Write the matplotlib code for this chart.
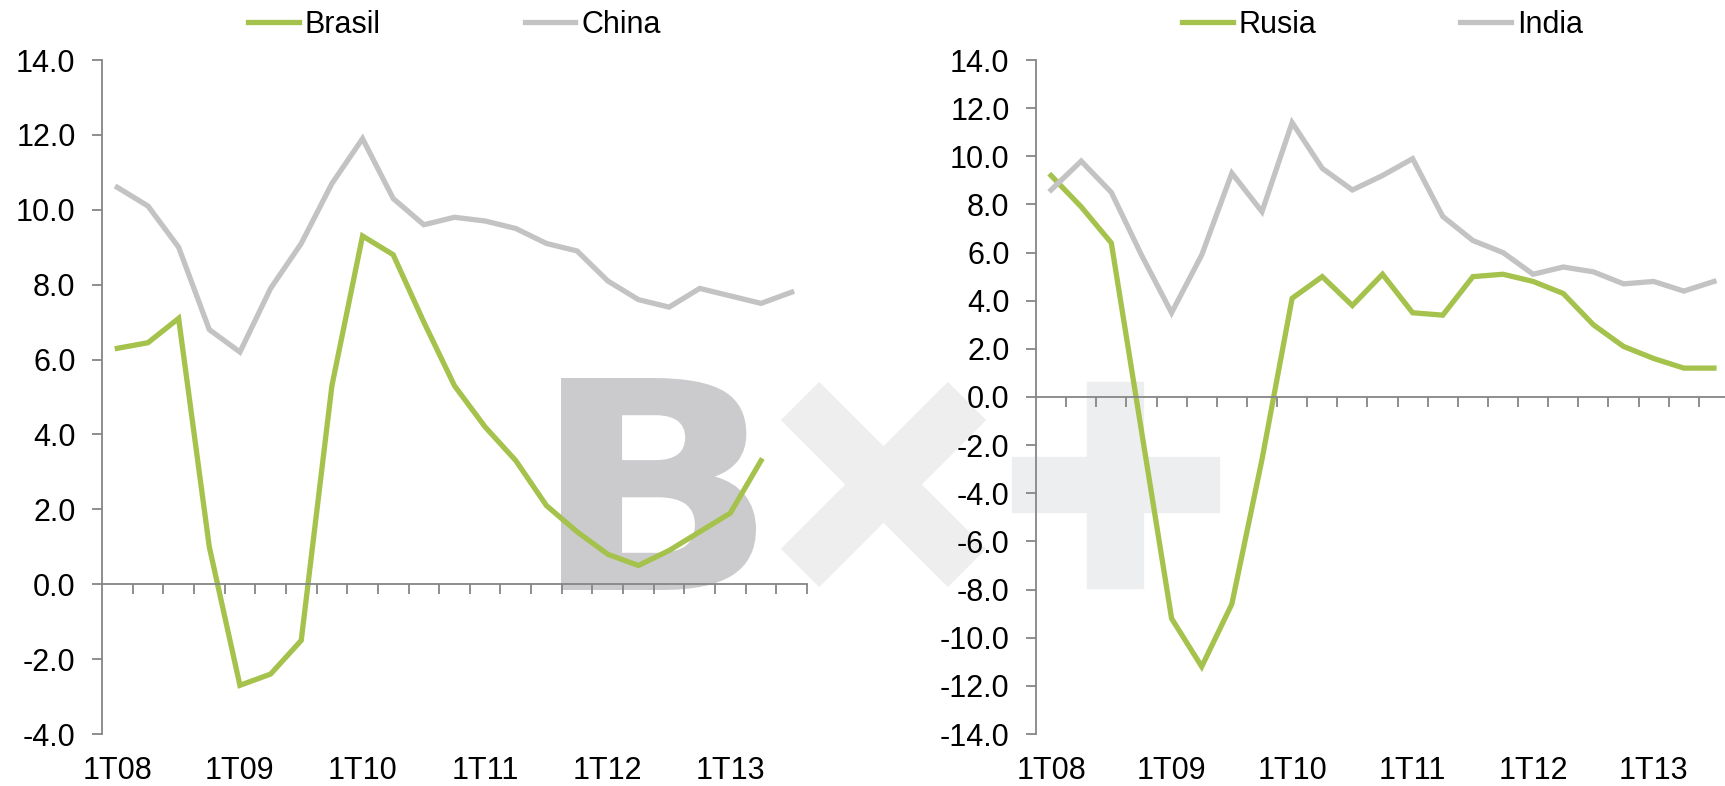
import numpy as np
import matplotlib.pyplot as plt
from matplotlib.ticker import FuncFormatter
from matplotlib.lines import Line2D
from matplotlib.patches import Rectangle, PathPatch
from matplotlib.textpath import TextPath
from matplotlib.font_manager import FontProperties
from matplotlib.transforms import Affine2D

plt.rcParams['font.family'] = ['Liberation Sans', 'DejaVu Sans']

# GDP growth by quarter, 1T08 .. 3T13
year_labels = ["1T08", "1T09", "1T10", "1T11", "1T12", "1T13"]
n_quarters = 23

brasil = [6.3, 6.45, 7.1, 1.0, -2.7, -2.4, -1.5, 5.3, 9.3, 8.8, 7.0, 5.3,
          4.2, 3.3, 2.1, 1.4, 0.8, 0.5, 0.9, 1.4, 1.9, 3.3]
china = [10.6, 10.1, 9.0, 6.8, 6.2, 7.9, 9.1, 10.7, 11.9, 10.3, 9.6, 9.8,
         9.7, 9.5, 9.1, 8.9, 8.1, 7.6, 7.4, 7.9, 7.7, 7.5, 7.8]
rusia = [9.2, 7.9, 6.4, -1.4, -9.2, -11.2, -8.6, -2.6, 4.1, 5.0, 3.8, 5.1,
         3.5, 3.4, 5.0, 5.1, 4.8, 4.3, 3.0, 2.1, 1.6, 1.2, 1.2]
india = [8.6, 9.8, 8.5, 5.9, 3.5, 5.9, 9.3, 7.7, 11.4, 9.5, 8.6, 9.2,
         9.9, 7.5, 6.5, 6.0, 5.1, 5.4, 5.2, 4.7, 4.8, 4.4, 4.8]

green = '#A5C24C'
grey = '#C3C3C3'
axis_col = '#868686'
fs = 22

W, H = 1725, 786
fig = plt.figure(figsize=(W / 100, H / 100), dpi=100)


def fx(px):
    return px / W


def fy(py):
    return 1 - py / H


# watermark logo (B x +) behind the charts
bpath = TextPath((0, 0), "B", size=100, prop=FontProperties(family='DejaVu Sans', weight='bold'))
ext = bpath.get_extents()
bx0, bx1, by0, by1 = 561, 756, 378, 590
tr = (Affine2D().translate(-ext.x0, -ext.y0)
      .scale((bx1 - bx0) / ext.width / W, (by1 - by0) / ext.height / H)
      .translate(fx(bx0), fy(by1)))
fig.add_artist(PathPatch(tr.transform_path(bpath), color='#CBCBCD', lw=0,
                         transform=fig.transFigure, zorder=-5))
for (x0, y0), (x1, y1) in [((800, 401), (967, 568)), ((967, 401), (800, 568))]:
    fig.add_artist(Line2D([fx(x0), fx(x1)], [fy(y0), fy(y1)], lw=39, color='#EEEEEF',
                          solid_capstyle='butt', transform=fig.transFigure, zorder=-5))
fig.add_artist(Rectangle((fx(1087), fy(588)), 56 / W, 206 / H, color='#EDEEF0',
                         transform=fig.transFigure, zorder=-5))
fig.add_artist(Rectangle((fx(1012), fy(512)), 207 / W, 55 / H, color='#EDEEF0',
                         transform=fig.transFigure, zorder=-5))


def make_panel(rect, s1, s2, names, ylim):
    ax = fig.add_axes(rect)
    ax.set_facecolor('none')
    ax.plot(range(len(s1)), s1, color=green, lw=3.8, label=names[0], solid_joinstyle='miter')
    ax.plot(range(len(s2)), s2, color=grey, lw=3.8, label=names[1], solid_joinstyle='miter')
    ax.set_xlim(-0.5, n_quarters - 0.5)
    ax.set_ylim(*ylim)
    ax.set_yticks(np.arange(ylim[0], ylim[1] + 1, 2))
    ax.yaxis.set_major_formatter(FuncFormatter(lambda v, p: f"{v:.1f}"))
    for s in ['top', 'right']:
        ax.spines[s].set_visible(False)
    ax.spines['bottom'].set_position(('data', 0))
    for s in ['left', 'bottom']:
        ax.spines[s].set_color(axis_col)
        ax.spines[s].set_linewidth(1.3)
    ax.set_xticks(np.arange(0.5, n_quarters, 1))
    ax.set_xticklabels([])
    ax.tick_params(axis='both', direction='out', length=7, width=1.3, color=axis_col)
    ax.tick_params(axis='y', labelsize=fs, pad=12)
    sec = ax.secondary_xaxis('bottom')
    sec.set_xticks(np.arange(0, n_quarters, 4), labels=year_labels)
    sec.tick_params(length=0, pad=16, labelsize=fs)
    sec.spines['bottom'].set_visible(False)
    ax.legend(loc='center', bbox_to_anchor=(0.5, 1.052), ncol=2, frameon=False,
              fontsize=fs, handlelength=1.65, handletextpad=0.2, columnspacing=4.7,
              borderaxespad=0)
    return ax


make_panel([fx(102), 52 / H, 705 / W, 674 / H], brasil, china, ["Brasil", "China"], (-4, 14))
make_panel([fx(1036), 52 / H, 693 / W, 674 / H], rusia, india, ["Rusia", "India"], (-14, 14))

fig.savefig('out.png', dpi=100)
